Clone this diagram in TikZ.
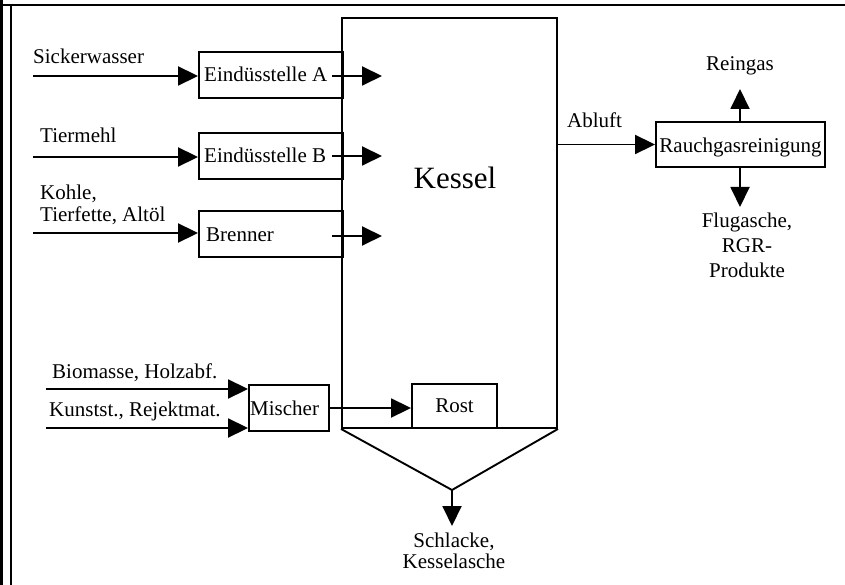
\documentclass[tikz,border=0pt]{standalone}
\usepackage{fontspec}
\setmainfont{Liberation Serif}
\usetikzlibrary{arrows.meta}
\newcommand\fsnorm{\fontsize{21}{24}\selectfont}
\newcommand\fsbig{\fontsize{31}{36}\selectfont}
\tikzset{
  box/.style={draw, line width=1.9pt, inner sep=0pt, rectangle},
  arr/.style={line width=1.9pt, -{Triangle[length=20pt,width=19pt]}},
  ln/.style={line width=1.9pt},
  lbl/.style={inner sep=0pt, font=\fsnorm},
}
\begin{document}
\begin{tikzpicture}[x=1pt,y=-1pt]
\useasboundingbox (0,0) rectangle (845,585);
% frame
\fill (0,0) rectangle (3,585);
\draw[line width=2.4pt] (0,5) -- (845,5);
\draw[line width=1.6pt] (11,5) -- (11,585);

% Kessel
\node[box, minimum width=215pt, minimum height=410pt] (kessel) at (449.5,223) {};
\node[inner sep=0pt, font=\fsbig, anchor=base] (kesseltxt) at (455,189) {Kessel};

% Eindüsstelle A
\node[box, minimum width=144pt, minimum height=46pt] (boxA) at (271,75) {};
\node[lbl, anchor=base west] (txtA) at (204,82) {Eindüsstelle A};
\node[lbl, anchor=base west] (sicker) at (33,64) {Sickerwasser};
\coordinate (inA) at (33,76);
\coordinate (outA0) at (332,76);
\coordinate (outA1) at (382,76);
\draw[arr] (inA) -- (inA -| boxA.west);
\draw[arr] (outA0) -- (outA1);

% Eindüsstelle B
\node[box, minimum width=144pt, minimum height=46pt] (boxB) at (271,156) {};
\node[lbl, anchor=base west] (txtB) at (204,163) {Eindüsstelle B};
\node[lbl, anchor=base west] (tier) at (40,143) {Tiermehl};
\coordinate (inB) at (33,157);
\coordinate (outB0) at (332,156);
\coordinate (outB1) at (382,156);
\draw[arr] (inB) -- (inB -| boxB.west);
\draw[arr] (outB0) -- (outB1);

% Brenner
\node[box, minimum width=144pt, minimum height=46pt] (boxC) at (271,234) {};
\node[lbl, anchor=base west] (txtC) at (206,242) {Brenner};
\node[lbl, anchor=base west] (kohle) at (40,200) {Kohle,};
\node[lbl, anchor=base west] (fette) at (40,222) {Tierfette, Altöl};
\coordinate (inC) at (33,233);
\coordinate (outC0) at (332,236);
\coordinate (outC1) at (382,236);
\draw[arr] (inC) -- (inC -| boxC.west);
\draw[arr] (outC0) -- (outC1);

% Mischer and Rost
\node[box, minimum width=80pt, minimum height=46pt] (mischer) at (289,408) {};
\node[lbl, anchor=base west] (mischtxt) at (250,415) {Mischer};
\node[box, minimum width=85pt, minimum height=44pt, font=\fsnorm] (rost) at (454.5,406) {Rost};
\node[lbl, anchor=base west] (bio) at (52,378) {Biomasse, Holzabf.};
\node[lbl, anchor=base west] (kunst) at (49,416) {Kunstst., Rejektmat.};
\coordinate (inM1) at (46,389);
\coordinate (inM2) at (46,428);
\draw[arr] (inM1) -- (inM1 -| mischer.west);
\draw[arr] (inM2) -- (inM2 -| mischer.west);
\draw[arr] (mischer.east) -- (mischer.east -| rost.west);

% funnel
\coordinate (tip) at (452,490);
\coordinate (slag) at (452,526);
\draw[ln, line join=miter] (kessel.south west) -- (tip) -- (kessel.south east);
\draw[arr] (tip) -- (slag);
\node[lbl, anchor=base] (schl1) at (454,547) {Schlacke,};
\node[lbl, anchor=base] (schl2) at (454,568) {Kesselasche};

% Rauchgasreinigung
\node[box, minimum width=169pt, minimum height=45pt] (rg) at (740.5,144.5) {};
\node[lbl, anchor=base] (rgtxt) at (740.5,153) {Rauchgasreinigung};
\draw[arr] (kessel.east |- rg.west) -- (rg.west);
\node[lbl, anchor=base west] (abluft) at (567,128) {Abluft};
\coordinate (rein) at (740,89);
\coordinate (flug) at (740,207);
\draw[arr] (rg.north -| rein) -- (rein);
\draw[arr] (rg.south -| flug) -- (flug);
\node[lbl, anchor=base] (reingas) at (740,71) {Reingas};
\node[lbl, anchor=base] (fl1) at (747,228) {Flugasche,};
\node[lbl, anchor=base] (fl2) at (747,252) {RGR-};
\node[lbl, anchor=base] (fl3) at (747,277) {Produkte};
\end{tikzpicture}
\end{document}
